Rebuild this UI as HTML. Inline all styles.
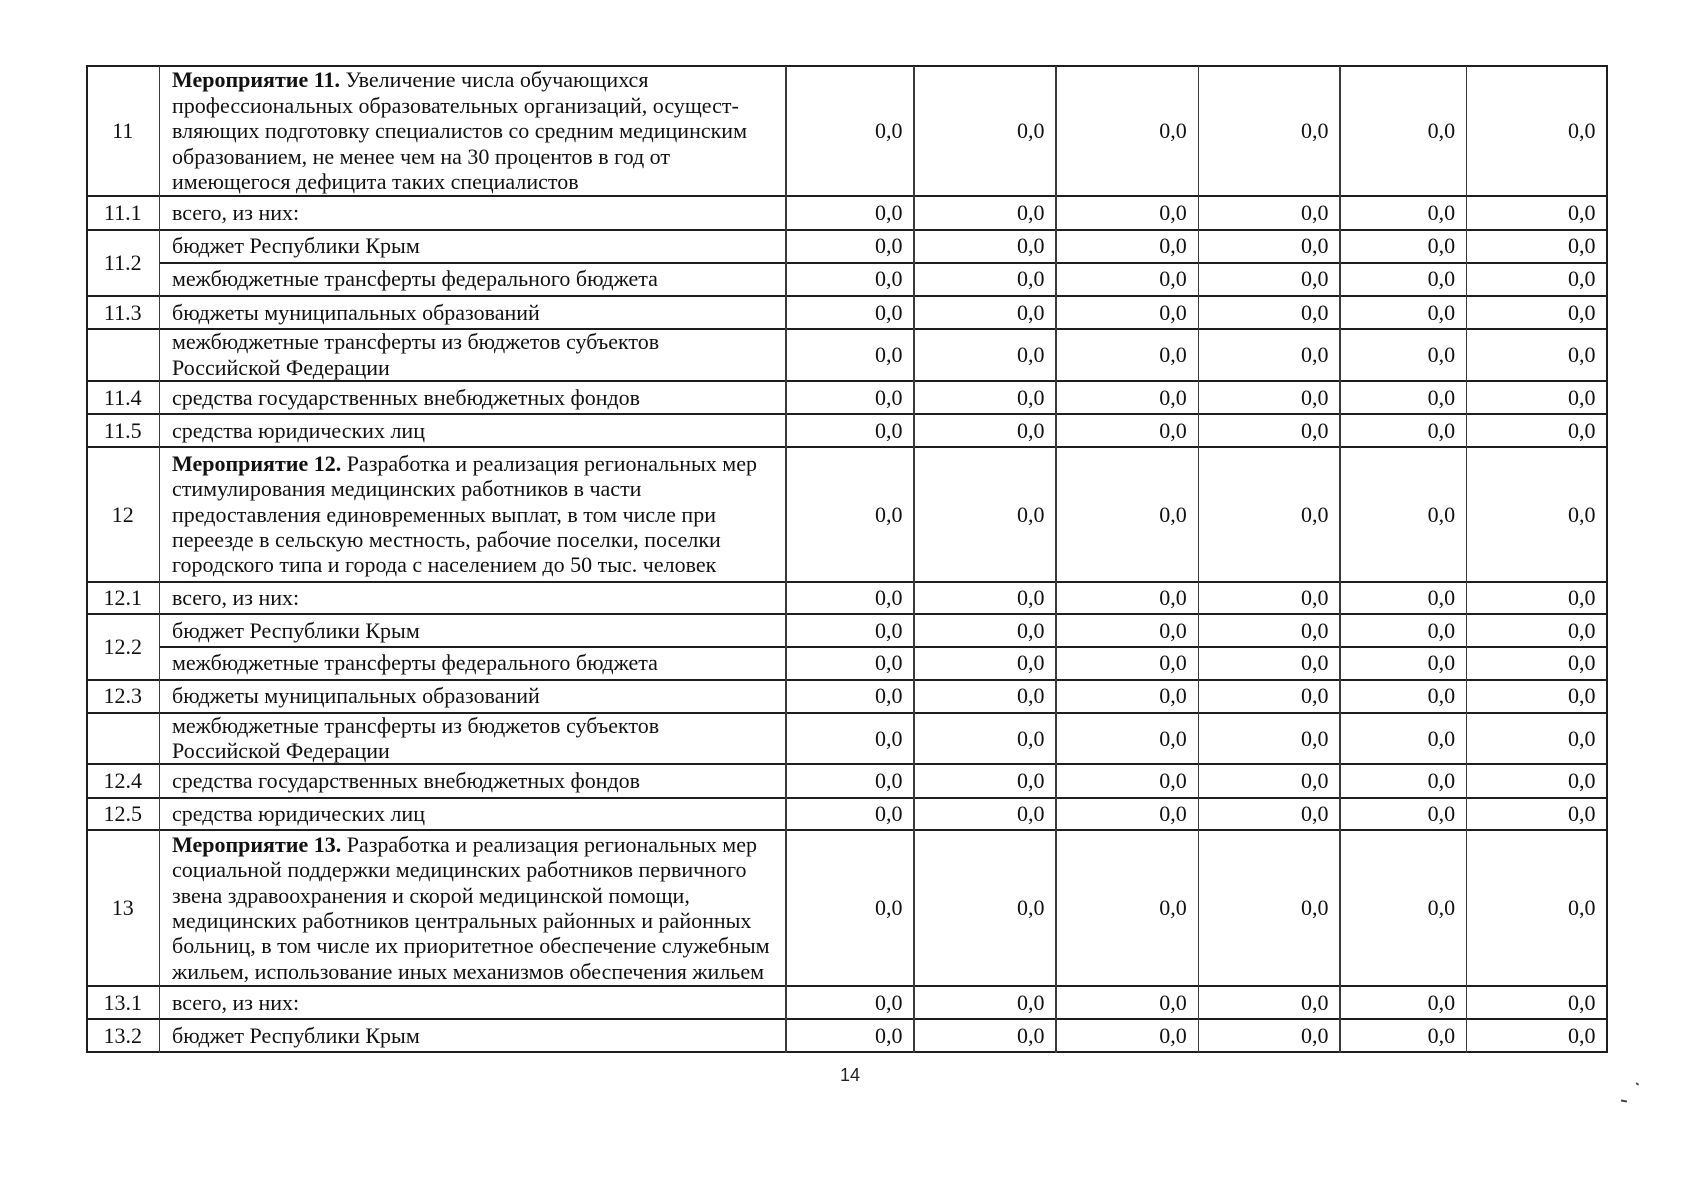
<!DOCTYPE html>
<html lang="ru">
<head>
<meta charset="utf-8">
<style>
  html, body { margin:0; padding:0; background:#fff; }
  body { width:1696px; height:1200px; position:relative; overflow:hidden;
         font-family:"Liberation Serif", "DejaVu Serif", serif; color:#111; }
  .r { position:absolute; left:86px; width:1521px; display:flex; }
  .r > span { display:flex; align-items:center; box-sizing:border-box; height:100%; font-size:22px; line-height:25.4px; white-space:nowrap; }
  .n { width:73.5px; justify-content:center; }
  .t { width:626.5px; padding-left:12.5px; }
  .v { justify-content:flex-end; padding-right:11.5px; }
  .v1 { width:128px; } .v2 { width:142px; } .v3 { width:142.3px; }
  .v4 { width:141.7px; } .v5 { width:126.7px; } .v6 { width:140.3px; }
  .lab { position:absolute; left:86px; width:73.5px; display:flex; align-items:center; justify-content:center; font-size:22px; }
  .h { position:absolute; height:2px; background:#1e1e1e; }
  .vl { position:absolute; top:66px; height:987px; width:1.6px; background:#3a3a3a; }
  b { font-weight:bold; }
  .pg { position:absolute; left:840px; top:1065px; font-family:"Liberation Sans", "DejaVu Sans", sans-serif; font-size:18px; color:#222; }
</style>
</head>
<body>

<!-- horizontal lines -->
<div class="h" style="left:86px;width:1522px;top:65px"></div>
<div class="h" style="left:86px;width:1522px;top:195px"></div>
<div class="h" style="left:86px;width:1522px;top:228.5px"></div>
<div class="h" style="left:159.5px;width:1448px;top:261.5px"></div>
<div class="h" style="left:86px;width:1522px;top:294.5px"></div>
<div class="h" style="left:86px;width:1522px;top:328px"></div>
<div class="h" style="left:86px;width:1522px;top:379.5px"></div>
<div class="h" style="left:86px;width:1522px;top:413px"></div>
<div class="h" style="left:86px;width:1522px;top:446px"></div>
<div class="h" style="left:86px;width:1522px;top:580.5px"></div>
<div class="h" style="left:86px;width:1522px;top:613px"></div>
<div class="h" style="left:159.5px;width:1448px;top:645.7px"></div>
<div class="h" style="left:86px;width:1522px;top:678.5px"></div>
<div class="h" style="left:86px;width:1522px;top:711.7px"></div>
<div class="h" style="left:86px;width:1522px;top:763.3px"></div>
<div class="h" style="left:86px;width:1522px;top:796.5px"></div>
<div class="h" style="left:86px;width:1522px;top:829px"></div>
<div class="h" style="left:86px;width:1522px;top:985px"></div>
<div class="h" style="left:86px;width:1522px;top:1018.3px"></div>
<div class="h" style="left:86px;width:1522px;top:1051.3px"></div>

<!-- vertical lines -->
<div class="vl" style="left:85.5px;background:#1e1e1e;width:2px"></div>
<div class="vl" style="left:158.7px"></div>
<div class="vl" style="left:785.2px"></div>
<div class="vl" style="left:913.2px"></div>
<div class="vl" style="left:1055.2px"></div>
<div class="vl" style="left:1197.5px"></div>
<div class="vl" style="left:1339.2px"></div>
<div class="vl" style="left:1465.9px"></div>
<div class="vl" style="left:1606.2px;background:#1e1e1e;width:2px"></div>

<!-- rowspan labels -->
<div class="lab" style="top:229.5px;height:66px">11.2</div>
<div class="lab" style="top:614px;height:65.5px">12.2</div>

<!-- rows -->
<div class="r" style="top:66px;height:130px"><span class="n">11</span><span class="t"><span><b>Мероприятие 11.</b> Увеличение числа обучающихся<br>профессиональных образовательных организаций, осущест-<br>вляющих подготовку специалистов со средним медицинским<br>образованием, не менее чем на 30 процентов в год от<br>имеющегося дефицита таких специалистов</span></span><span class="v v1">0,0</span><span class="v v2">0,0</span><span class="v v3">0,0</span><span class="v v4">0,0</span><span class="v v5">0,0</span><span class="v v6">0,0</span></div>

<div class="r" style="top:196px;height:33.5px"><span class="n">11.1</span><span class="t">всего, из них:</span><span class="v v1">0,0</span><span class="v v2">0,0</span><span class="v v3">0,0</span><span class="v v4">0,0</span><span class="v v5">0,0</span><span class="v v6">0,0</span></div>

<div class="r" style="top:229.5px;height:33px"><span class="n"></span><span class="t">бюджет Республики Крым</span><span class="v v1">0,0</span><span class="v v2">0,0</span><span class="v v3">0,0</span><span class="v v4">0,0</span><span class="v v5">0,0</span><span class="v v6">0,0</span></div>

<div class="r" style="top:262.5px;height:33px"><span class="n"></span><span class="t">межбюджетные трансферты федерального бюджета</span><span class="v v1">0,0</span><span class="v v2">0,0</span><span class="v v3">0,0</span><span class="v v4">0,0</span><span class="v v5">0,0</span><span class="v v6">0,0</span></div>

<div class="r" style="top:295.5px;height:33.5px"><span class="n">11.3</span><span class="t">бюджеты муниципальных образований</span><span class="v v1">0,0</span><span class="v v2">0,0</span><span class="v v3">0,0</span><span class="v v4">0,0</span><span class="v v5">0,0</span><span class="v v6">0,0</span></div>

<div class="r" style="top:329px;height:51.5px"><span class="n"></span><span class="t"><span>межбюджетные трансферты из бюджетов субъектов<br>Российской Федерации</span></span><span class="v v1">0,0</span><span class="v v2">0,0</span><span class="v v3">0,0</span><span class="v v4">0,0</span><span class="v v5">0,0</span><span class="v v6">0,0</span></div>

<div class="r" style="top:380.5px;height:33.5px"><span class="n">11.4</span><span class="t">средства государственных внебюджетных фондов</span><span class="v v1">0,0</span><span class="v v2">0,0</span><span class="v v3">0,0</span><span class="v v4">0,0</span><span class="v v5">0,0</span><span class="v v6">0,0</span></div>

<div class="r" style="top:414px;height:33px"><span class="n">11.5</span><span class="t">средства юридических лиц</span><span class="v v1">0,0</span><span class="v v2">0,0</span><span class="v v3">0,0</span><span class="v v4">0,0</span><span class="v v5">0,0</span><span class="v v6">0,0</span></div>

<div class="r" style="top:447px;height:134.5px"><span class="n">12</span><span class="t"><span><b>Мероприятие 12.</b> Разработка и реализация региональных мер<br>стимулирования медицинских работников в части<br>предоставления единовременных выплат, в том числе при<br>переезде в сельскую местность, рабочие поселки, поселки<br>городского типа и города с населением до 50 тыс. человек</span></span><span class="v v1">0,0</span><span class="v v2">0,0</span><span class="v v3">0,0</span><span class="v v4">0,0</span><span class="v v5">0,0</span><span class="v v6">0,0</span></div>

<div class="r" style="top:581.5px;height:32.5px"><span class="n">12.1</span><span class="t">всего, из них:</span><span class="v v1">0,0</span><span class="v v2">0,0</span><span class="v v3">0,0</span><span class="v v4">0,0</span><span class="v v5">0,0</span><span class="v v6">0,0</span></div>

<div class="r" style="top:614px;height:32.7px"><span class="n"></span><span class="t">бюджет Республики Крым</span><span class="v v1">0,0</span><span class="v v2">0,0</span><span class="v v3">0,0</span><span class="v v4">0,0</span><span class="v v5">0,0</span><span class="v v6">0,0</span></div>

<div class="r" style="top:646.7px;height:32.8px"><span class="n"></span><span class="t">межбюджетные трансферты федерального бюджета</span><span class="v v1">0,0</span><span class="v v2">0,0</span><span class="v v3">0,0</span><span class="v v4">0,0</span><span class="v v5">0,0</span><span class="v v6">0,0</span></div>

<div class="r" style="top:679.5px;height:33.2px"><span class="n">12.3</span><span class="t">бюджеты муниципальных образований</span><span class="v v1">0,0</span><span class="v v2">0,0</span><span class="v v3">0,0</span><span class="v v4">0,0</span><span class="v v5">0,0</span><span class="v v6">0,0</span></div>

<div class="r" style="top:712.7px;height:51.6px"><span class="n"></span><span class="t"><span>межбюджетные трансферты из бюджетов субъектов<br>Российской Федерации</span></span><span class="v v1">0,0</span><span class="v v2">0,0</span><span class="v v3">0,0</span><span class="v v4">0,0</span><span class="v v5">0,0</span><span class="v v6">0,0</span></div>

<div class="r" style="top:764.3px;height:33.2px"><span class="n">12.4</span><span class="t">средства государственных внебюджетных фондов</span><span class="v v1">0,0</span><span class="v v2">0,0</span><span class="v v3">0,0</span><span class="v v4">0,0</span><span class="v v5">0,0</span><span class="v v6">0,0</span></div>

<div class="r" style="top:797.5px;height:32.5px"><span class="n">12.5</span><span class="t">средства юридических лиц</span><span class="v v1">0,0</span><span class="v v2">0,0</span><span class="v v3">0,0</span><span class="v v4">0,0</span><span class="v v5">0,0</span><span class="v v6">0,0</span></div>

<div class="r" style="top:830px;height:156px"><span class="n">13</span><span class="t"><span><b>Мероприятие 13.</b> Разработка и реализация региональных мер<br>социальной поддержки медицинских работников первичного<br>звена здравоохранения и скорой медицинской помощи,<br>медицинских работников центральных районных и районных<br>больниц, в том числе их приоритетное обеспечение служебным<br>жильем, использование иных механизмов обеспечения жильем</span></span><span class="v v1">0,0</span><span class="v v2">0,0</span><span class="v v3">0,0</span><span class="v v4">0,0</span><span class="v v5">0,0</span><span class="v v6">0,0</span></div>

<div class="r" style="top:986px;height:33.3px"><span class="n">13.1</span><span class="t">всего, из них:</span><span class="v v1">0,0</span><span class="v v2">0,0</span><span class="v v3">0,0</span><span class="v v4">0,0</span><span class="v v5">0,0</span><span class="v v6">0,0</span></div>

<div class="r" style="top:1019.3px;height:33px"><span class="n">13.2</span><span class="t">бюджет Республики Крым</span><span class="v v1">0,0</span><span class="v v2">0,0</span><span class="v v3">0,0</span><span class="v v4">0,0</span><span class="v v5">0,0</span><span class="v v6">0,0</span></div>

<div class="pg">14</div>

<!-- scan specks -->
<div style="position:absolute;left:1636px;top:1083px;width:3px;height:1.5px;background:#555;transform:rotate(35deg)"></div>
<div style="position:absolute;left:1621px;top:1100px;width:6px;height:1.5px;background:#444;transform:rotate(10deg)"></div>

</body>
</html>
